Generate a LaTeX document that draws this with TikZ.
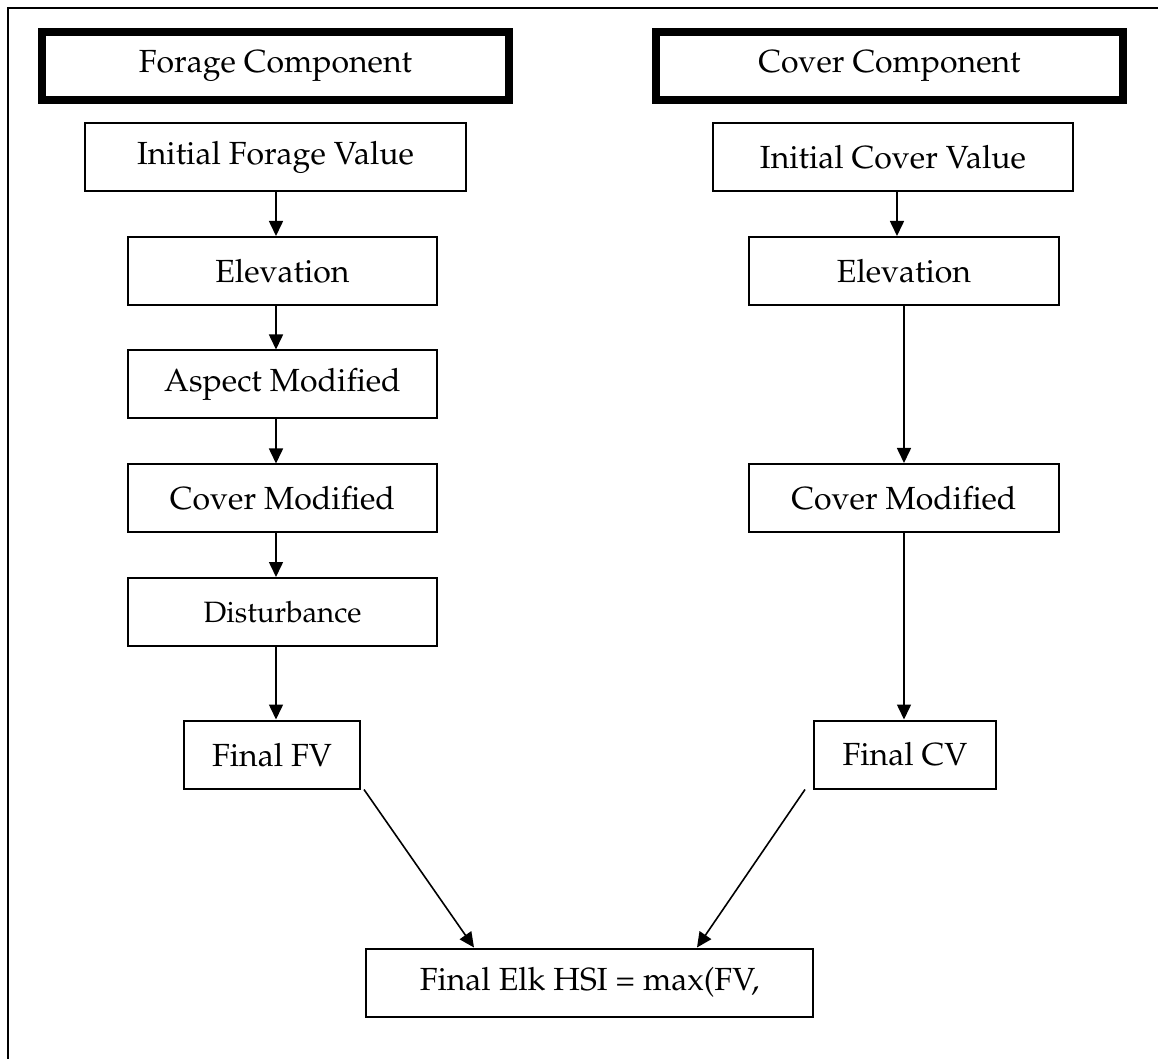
\documentclass[tikz,border=0pt]{standalone}
\usepackage[T1]{fontenc}
\usepackage{mathpazo}
\usetikzlibrary{arrows.meta}

\begin{document}
\begin{tikzpicture}[x=0.5pt, y=-0.5pt,
  box/.style={draw, line width=1pt, inner sep=0pt, minimum height=34pt,
    font=\fontsize{16}{19}\selectfont},
  titlebox/.style={draw, line width=4pt, inner sep=0pt, minimum height=34pt,
    font=\fontsize{16}{19}\selectfont},
  arr/.style={-{Triangle[length=7.5pt, width=7pt]}, line width=0.8pt}]
  \useasboundingbox (0,0) rectangle (1158,1059);
  % Page frame, left and top edge only
  \draw[line width=1.25pt] (8,1059) -- (8,8) -- (1158,8);
  % Arrow lines of both columns
  \coordinate (lx) at (276,0);
  \coordinate (rx) at (897,0);
  \coordinate (ry) at (904,0);
  % Forage column
  \node[titlebox, minimum width=233.5pt] (forT) at (275.5,66) {Forage Component};
  \node[box, minimum width=190.5pt] (initF) at (275.5,157.5) {Initial Forage Value};
  \node[box, minimum width=154.5pt] (elevF) at (282.5,271) {Elevation};
  \node[box, minimum width=154.5pt] (aspF) at (282.5,384.5) {Aspect Modified};
  \node[box, minimum width=154.5pt] (covF) at (282.5,498.5) {Cover Modified};
  \node[box, minimum width=154.5pt, font=\fontsize{14.7}{17}\selectfont] (distF) at (282.5,612) {Disturbance};
  \node[box, minimum width=88pt] (finF) at (272,754.5) {Final FV};
  % Cover column
  \node[titlebox, minimum width=233.5pt] (covT) at (889.5,66) {Cover Component};
  \node[box, minimum width=180pt] (initC) at (893,157.5) {Initial Cover Value};
  \node[box, minimum width=155pt] (elevC) at (904,271) {Elevation};
  \node[box, minimum width=155pt] (covC) at (904,498) {Cover Modified};
  \node[box, minimum width=91pt] (finC) at (905,754.5) {Final CV};
  % Result
  \node[box, minimum width=223.5pt] (hsi) at (589.5,982.5) {Final Elk HSI = max(FV,};
  % Forage arrows
  \draw[arr] (initF.south -| lx) -- (elevF.north -| lx);
  \draw[arr] (elevF.south -| lx) -- (aspF.north -| lx);
  \draw[arr] (aspF.south -| lx) -- (covF.north -| lx);
  \draw[arr] (covF.south -| lx) -- (distF.north -| lx);
  \draw[arr] (distF.south -| lx) -- (finF.north -| lx);
  % Cover arrows
  \draw[arr] (initC.south -| rx) -- (elevC.north -| rx);
  \draw[arr] (elevC.south -| ry) -- (covC.north -| ry);
  \draw[arr] (covC.south -| ry) -- (finC.north -| ry);
  % Into the result
  \draw[arr] ([xshift=1.5pt]finF.south east) -- ([xshift=54.5pt]hsi.north west);
  \draw[arr] ([xshift=-4pt]finC.south west) -- ([xshift=-58.5pt]hsi.north east);
\end{tikzpicture}
\end{document}
